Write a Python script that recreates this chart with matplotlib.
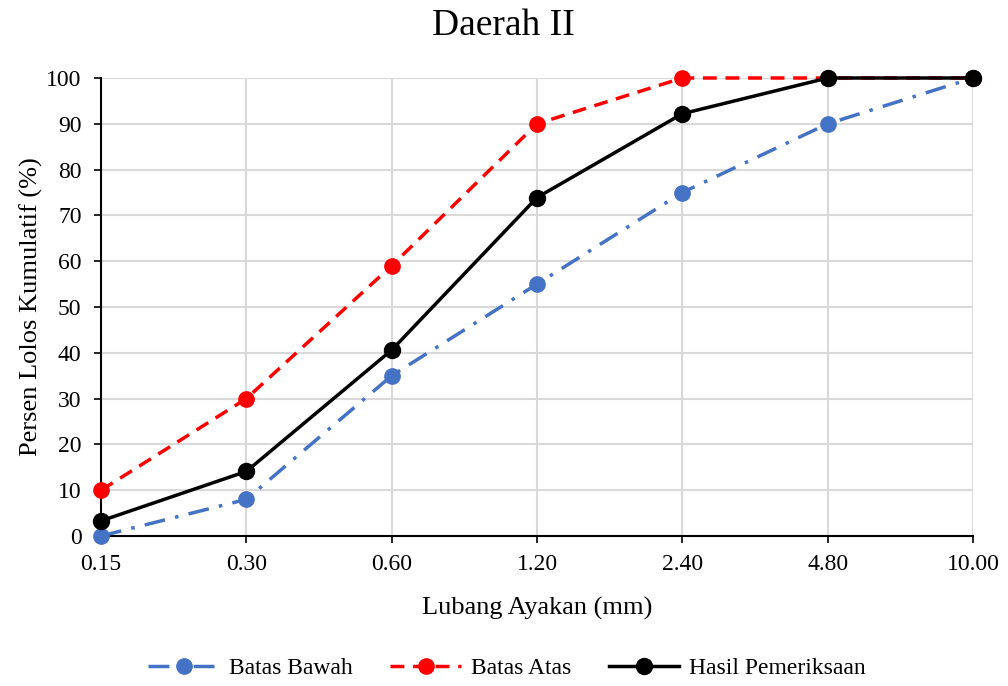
import matplotlib
matplotlib.use("Agg")
import matplotlib.pyplot as plt

plt.rcParams['font.family'] = ['Liberation Serif', 'DejaVu Serif']

sieve_labels = ["0.15", "0.30", "0.60", "1.20", "2.40", "4.80", "10.00"]
batas_bawah = [0, 8, 35, 55, 75, 90, 100]
batas_atas = [10, 30, 59, 90, 100, 100, 100]
hasil = [3.3, 14.1, 40.6, 73.9, 92.2, 100, 100]

fig = plt.figure(figsize=(10.08, 6.86), dpi=100)
ax = fig.add_axes([101/1008, 1-536/686, (973-101)/1008, (536-78)/686])

x = list(range(len(sieve_labels)))
ax.plot(x, batas_bawah, color='#4472C4', linestyle=(0, (6, 3, 1, 3)), linewidth=2.5,
        marker='o', markersize=11, label='Batas Bawah', clip_on=False, zorder=3)
ax.plot(x, batas_atas, color='#FF0000', linestyle=(0, (4, 2.5)), linewidth=2.5,
        marker='o', markersize=11, label='Batas Atas', clip_on=False, zorder=4)
ax.plot(x, hasil, color='black', linestyle='-', linewidth=2.5,
        marker='o', markersize=11.5, label='Hasil Pemeriksaan', clip_on=False, zorder=5)

ax.set_xlim(0, len(sieve_labels)-1)
ax.set_ylim(0, 100)
ax.set_xticks(x)
ax.set_xticklabels(sieve_labels)
ax.set_yticks(range(0, 101, 10))
ax.tick_params(axis='both', labelsize=17, direction='out', length=5, width=1.2, color='black')
ax.tick_params(axis='x', pad=8)
ax.tick_params(axis='y', pad=9)
ax.grid(True, color='#D9D9D9', linewidth=1.5)
ax.set_axisbelow(True)
for s in ['top', 'right']:
    ax.spines[s].set_visible(False)
for s in ['left', 'bottom']:
    ax.spines[s].set_color('black')
    ax.spines[s].set_linewidth(1.5)

ax.set_xlabel('Lubang Ayakan (mm)', fontsize=19, labelpad=16)
ax.set_ylabel('Persen Lolos Kumulatif (%)', fontsize=19, labelpad=2)
fig.text(503/1008, 1-26/686, 'Daerah II', ha='center', va='center', fontsize=27)

fig.legend(loc='center', bbox_to_anchor=(507/1008, 1-668/686), ncol=3, frameon=False,
           fontsize=17, handlelength=3.0, handletextpad=0.4, columnspacing=1.6)

fig.savefig('out.png', dpi=100)
